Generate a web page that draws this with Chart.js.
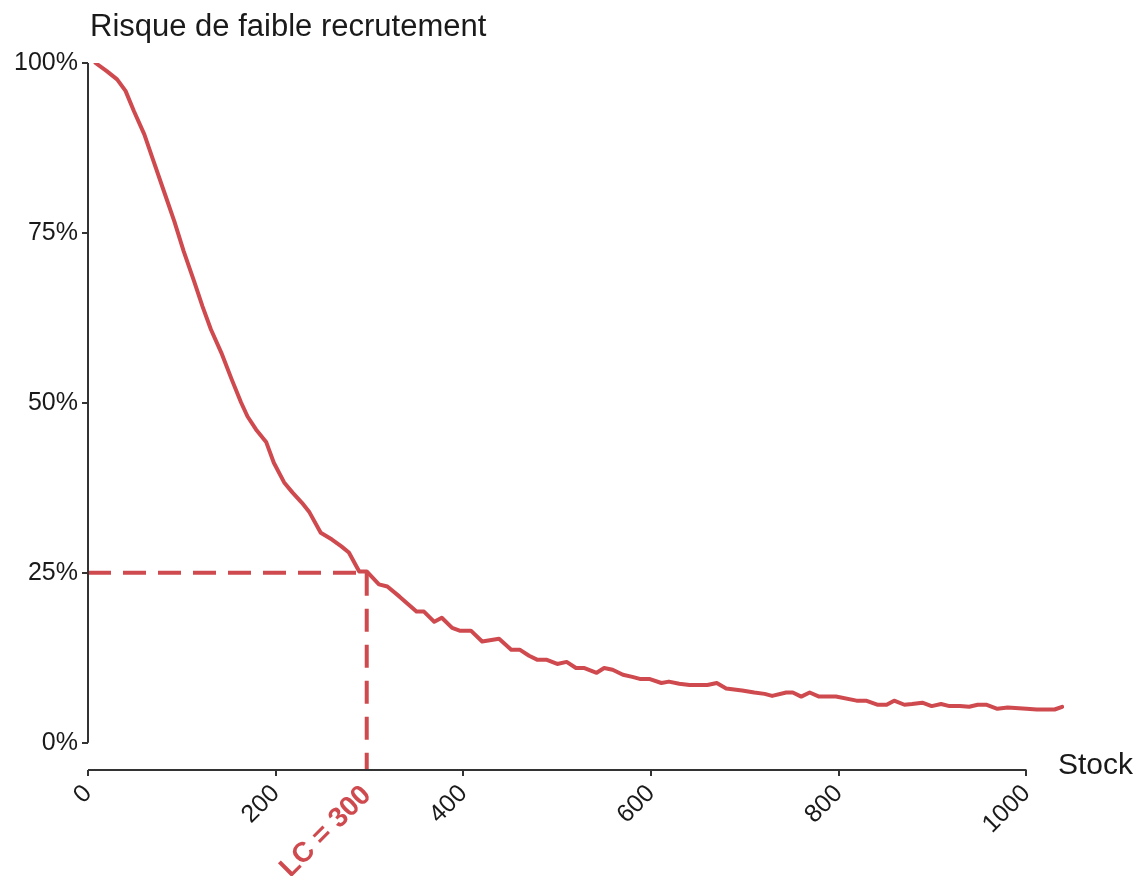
<!DOCTYPE html>
<html>
<head>
<meta charset="utf-8">
<script src="https://cdn.jsdelivr.net/npm/chart.js@4.4.1/dist/chart.umd.min.js"></script>
<style>
  html, body { margin: 0; background: #fff; }
  #wrap { width: 1137px; height: 876px; }
</style>
</head>
<body>
<div id="wrap"><canvas id="chart"></canvas></div>
<script>
// values
const stock = [8, 20, 31, 40, 49, 60, 70, 81, 92, 102, 113, 122, 131, 142, 153, 163, 170, 179, 190, 198,
  209, 218, 228, 236, 248, 260, 270, 278, 289, 297, 310, 319, 332, 350, 358, 369, 377, 388, 396, 408,
  420, 438, 451, 460, 470, 479, 489, 500, 510, 520, 529, 542, 550, 559, 570, 580, 588, 598, 611, 619,
  630, 641, 660, 670, 680, 697, 710, 721, 729, 744, 751, 760, 769, 779, 797, 819, 829, 841, 851, 859,
  870, 878, 889, 899, 909, 918, 929, 939, 948, 957, 969, 980, 1000, 1011, 1030, 1038];
const risk = [100, 98.8, 97.6, 95.9, 92.9, 89.5, 85.5, 81.1, 76.7, 72.3, 67.9, 64.2, 60.8, 57.4, 53.5, 50.1, 48.0, 46.1, 44.2, 41.2,
  38.3, 36.8, 35.3, 33.9, 30.9, 29.9, 28.9, 28.0, 25.2, 25.2, 23.3, 23.0, 21.5, 19.3, 19.3, 17.8, 18.4, 16.9, 16.5, 16.5,
  14.9, 15.3, 13.7, 13.7, 12.8, 12.2, 12.2, 11.6, 11.9, 11.0, 11.0, 10.3, 11.0, 10.75, 10.0, 9.7, 9.4, 9.4, 8.8, 9.0,
  8.7, 8.5, 8.5, 8.8, 8.0, 7.7, 7.4, 7.2, 6.9, 7.4, 7.4, 6.8, 7.4, 6.8, 6.8, 6.2, 6.2, 5.6, 5.6, 6.2,
  5.6, 5.7, 5.9, 5.4, 5.7, 5.4, 5.4, 5.3, 5.6, 5.6, 5.0, 5.2, 5.0, 4.9, 4.9, 5.3];

const xTicks = [0, 200, 400, 600, 800, 1000];
const yTicks = [0, 25, 50, 75, 100];
const lcStock = 297;
const lcRisk = 25;
const lcLabel = 'LC = 300';

const red = '#cf4a4e';
const ink = '#1a1a1a';
const axisColor = '#333333';
const fontFamily = '"Liberation Sans", Arial, sans-serif';

const yMin = -4;

const curve = stock.map((s, i) => ({ x: s, y: risk[i] }));

const axesPlugin = {
    id: 'axesPlugin',
    afterDraw(chart) {
        const ctx = chart.ctx;
        const xs = chart.scales.x;
        const ys = chart.scales.y;
        const area = chart.chartArea;
        ctx.save();
        ctx.strokeStyle = axisColor;
        ctx.lineWidth = 2;
        ctx.beginPath();
        ctx.moveTo(area.left, ys.getPixelForValue(0));
        ctx.lineTo(area.left, ys.getPixelForValue(100));
        ctx.moveTo(xs.getPixelForValue(0), area.bottom);
        ctx.lineTo(xs.getPixelForValue(1000), area.bottom);
        ctx.stroke();

        ctx.fillStyle = ink;
        ctx.textBaseline = 'alphabetic';
        ctx.textAlign = 'left';
        ctx.font = '31px ' + fontFamily;
        ctx.fillText('Risque de faible recrutement', 90, 36);
        ctx.font = '30px ' + fontFamily;
        ctx.fillText('Stock', 1058, 774);
        ctx.restore();
    }
};

new Chart(document.getElementById('chart'), {
    type: 'line',
    data: {
        datasets: [
            {
                data: [{ x: 0, y: lcRisk }, { x: lcStock, y: lcRisk }],
                borderColor: red,
                borderWidth: 4,
                borderDash: [23, 12],
                pointRadius: 0
            },
            {
                data: [{ x: lcStock, y: lcRisk }, { x: lcStock, y: yMin }],
                borderColor: red,
                borderWidth: 4,
                borderDash: [23, 13],
                pointRadius: 0
            },
            {
                data: curve,
                borderColor: red,
                borderWidth: 4,
                pointRadius: 0,
                tension: 0,
                borderJoinStyle: 'round',
                borderCapStyle: 'round'
            }
        ]
    },
    options: {
        responsive: true,
        maintainAspectRatio: false,
        animation: false,
        layout: { padding: { top: 63, right: 73, left: 0, bottom: 0 } },
        plugins: {
            legend: { display: false },
            tooltip: { enabled: false },
            title: { display: false }
        },
        scales: {
            x: {
                type: 'linear',
                min: 0,
                max: 1040,
                border: { display: false },
                grid: {
                    drawOnChartArea: false,
                    drawTicks: true,
                    tickLength: 6,
                    lineWidth: 2,
                    color: (c) => (c.tick && c.tick.value === lcStock) ? 'rgba(0,0,0,0)' : axisColor
                },
                afterBuildTicks: (scale) => {
                    scale.ticks = xTicks.concat([lcStock]).sort((a, b) => a - b).map(v => ({ value: v }));
                },
                afterFit: (scale) => { scale.height = 106; },
                ticks: {
                    autoSkip: false,
                    minRotation: 45,
                    maxRotation: 45,
                    padding: 3,
                    color: (c) => c.tick.value === lcStock ? red : ink,
                    font: (c) => c.tick && c.tick.value === lcStock
                        ? { family: fontFamily, size: 28, weight: 'bold' }
                        : { family: fontFamily, size: 25 },
                    callback: (v) => v === lcStock ? lcLabel : String(v)
                }
            },
            y: {
                min: yMin,
                max: 100,
                border: { display: false },
                grid: {
                    drawOnChartArea: false,
                    drawTicks: true,
                    tickLength: 6,
                    lineWidth: 2,
                    color: axisColor
                },
                afterBuildTicks: (scale) => {
                    scale.ticks = yTicks.map(v => ({ value: v }));
                },
                afterFit: (scale) => { scale.width = 88; },
                ticks: {
                    padding: 4,
                    color: ink,
                    font: { family: fontFamily, size: 25 },
                    callback: (v) => v + '%'
                }
            }
        }
    },
    plugins: [axesPlugin]
});
</script>
</body>
</html>
